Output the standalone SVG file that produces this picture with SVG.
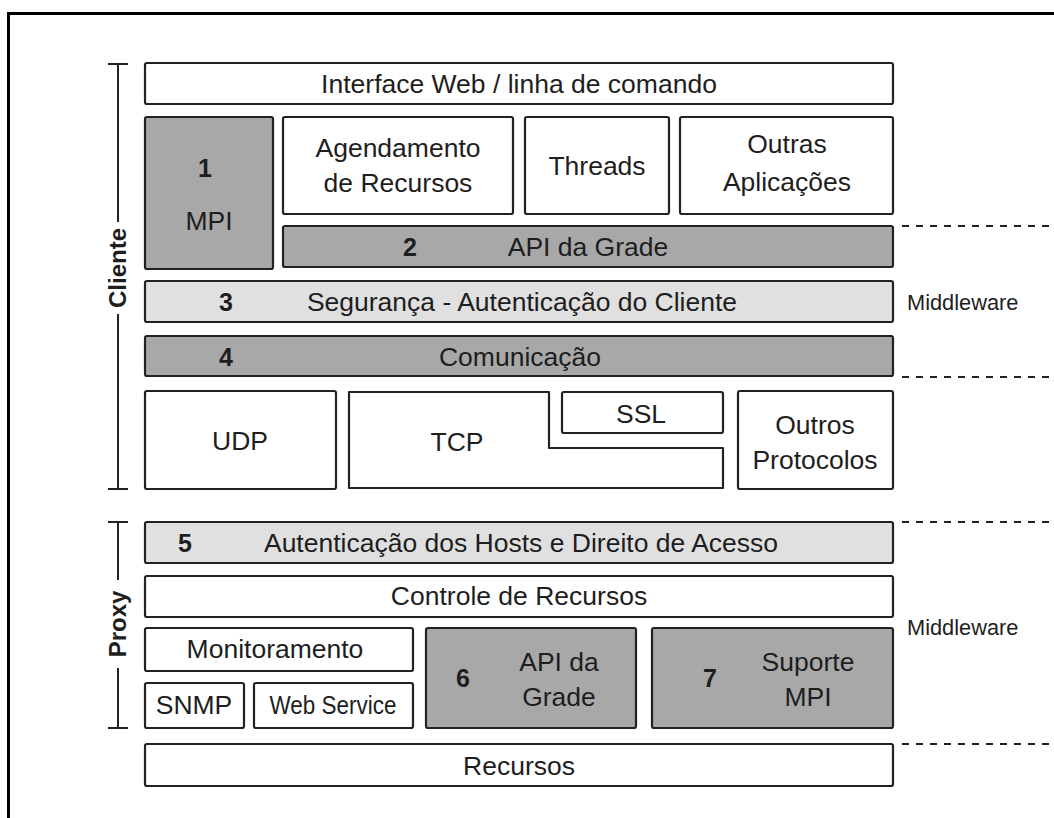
<svg xmlns="http://www.w3.org/2000/svg" width="1054" height="818" viewBox="0 0 1054 818">
<style>
.b{stroke:#222;stroke-width:2.2;fill:#fff}
.d{fill:#a8a8a8}
.l{fill:#e0e0e0}
text{font-family:"Liberation Sans",Arial,sans-serif;font-size:26.5px;fill:#1e1e1e;text-anchor:middle}
.n{font-weight:bold;font-size:25px}
.c{font-weight:bold;font-size:24px}
.m{font-size:21.8px;text-anchor:start}
.dash{stroke:#222;stroke-width:2;stroke-dasharray:7 7}
.br{stroke:#222;stroke-width:2;fill:none}
</style>
<rect width="1054" height="818" fill="#fff"/>
<path d="M8.5 818 V13.5 H1054" fill="none" stroke="#000" stroke-width="3"/>

<g id="bracket-cliente">
<path class="br" d="M108 64 H128 M118 64 V222 M118 314 V489 M108 489 H128"/>
<text class="c" transform="translate(126 268) rotate(-90)">Cliente</text>
</g>
<g id="bracket-proxy">
<path class="br" d="M108 522 H128 M118 522 V580 M118 668 V728 M108 728 H128"/>
<text class="c" transform="translate(126 624) rotate(-90)">Proxy</text>
</g>

<g id="interface"><rect class="b" x="145" y="63" width="748" height="41" rx="2"/><text x="519" y="93">Interface Web / linha de comando</text></g>
<g id="mpi"><rect class="b d" x="145" y="117" width="128" height="152" rx="2"/><text class="n" x="205" y="177">1</text><text x="209" y="230">MPI</text></g>
<g id="agendamento"><rect class="b" x="283" y="117" width="230" height="97" rx="2"/><text x="398" y="157">Agendamento</text><text x="398" y="192">de Recursos</text></g>
<g id="threads"><rect class="b" x="525" y="117" width="144" height="97" rx="2"/><text x="597" y="175">Threads</text></g>
<g id="outras"><rect class="b" x="680" y="117" width="213" height="97" rx="2"/><text x="787" y="153">Outras</text><text x="787" y="191">Aplicações</text></g>
<g id="api-grade"><rect class="b d" x="283" y="226" width="610" height="41" rx="2"/><text class="n" x="410" y="256">2</text><text x="588" y="256">API da Grade</text></g>
<g id="seguranca"><rect class="b l" x="145" y="281" width="748" height="41" rx="2"/><text class="n" x="226" y="311">3</text><text x="522" y="311">Segurança - Autenticação do Cliente</text></g>
<g id="comunicacao"><rect class="b d" x="145" y="336" width="748" height="40" rx="2"/><text class="n" x="226" y="366">4</text><text x="520" y="366">Comunicação</text></g>
<g id="udp"><rect class="b" x="145" y="391" width="191" height="98" rx="2"/><text x="240" y="450">UDP</text></g>
<g id="tcp"><path class="b" d="M349 392 H549 V448 H723 V488 H349 Z" stroke-linejoin="round"/><text x="457" y="451">TCP</text></g>
<g id="ssl"><rect class="b" x="562" y="392" width="161" height="41" rx="2"/><text x="641" y="423">SSL</text></g>
<g id="outros-protocolos"><rect class="b" x="738" y="391" width="155" height="98" rx="2"/><text x="815" y="434">Outros</text><text x="815" y="469">Protocolos</text></g>

<g id="autenticacao-hosts"><rect class="b l" x="145" y="522" width="748" height="41" rx="2"/><text class="n" x="185" y="552">5</text><text x="521" y="552">Autenticação dos Hosts e Direito de Acesso</text></g>
<g id="controle"><rect class="b" x="145" y="576" width="748" height="41" rx="2"/><text x="519" y="605">Controle de Recursos</text></g>
<g id="monitoramento"><rect class="b" x="145" y="628" width="268" height="43" rx="2"/><text x="275" y="658">Monitoramento</text></g>
<g id="snmp"><rect class="b" x="145" y="683" width="99" height="45" rx="2"/><text x="194" y="714">SNMP</text></g>
<g id="webservice"><rect class="b" x="254" y="683" width="159" height="45" rx="2"/><text x="333" y="714" textLength="127" lengthAdjust="spacingAndGlyphs">Web Service</text></g>
<g id="api-grade-proxy"><rect class="b d" x="426" y="628" width="210" height="100" rx="2"/><text class="n" x="463" y="687">6</text><text x="559" y="671">API da</text><text x="559" y="706">Grade</text></g>
<g id="suporte-mpi"><rect class="b d" x="652" y="628" width="241" height="100" rx="2"/><text class="n" x="710" y="687">7</text><text x="808" y="671">Suporte</text><text x="808" y="706">MPI</text></g>
<g id="recursos"><rect class="b" x="145" y="744" width="748" height="42" rx="2"/><text x="519" y="775">Recursos</text></g>

<g id="connectors">
<path class="dash" d="M902 226 H1054 M902 377 H1054 M902 522 H1054 M902 744 H1054"/>
</g>
<g id="labels">
<text class="m" x="907" y="310">Middleware</text>
<text class="m" x="907" y="635">Middleware</text>
</g>
</svg>
